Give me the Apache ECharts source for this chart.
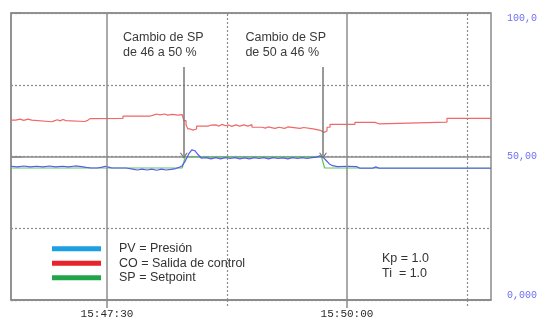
<!DOCTYPE html>
<html>
<head>
<meta charset="utf-8">
<script src="https://cdn.jsdelivr.net/npm/echarts@6/dist/echarts.min.js"></script>
<style>
  html, body { margin: 0; padding: 0; background: #fff; }
  #chart { width: 546px; height: 322px; }
</style>
</head>
<body>
<div id="chart"></div>
<script>
// Time axis: seconds elapsed since 15:46:30 (window of five minutes)
const timeMin = 0;
const timeMax = 300;
const majorTimeTicks = [60, 210];
const majorTimeLabels = ['15:47:30', '15:50:00'];
const minorTimeTicks = [135, 285];

// Percent axis on the right
const pctTicks = [0, 50, 100];
const pctLabels = ['0,000', '50,00', '100,0'];

// PV = Presión  [t, %]
const pvPoints = [
  [0, 46.6], [4, 46.4], [8, 46.7], [12, 46.4], [16, 46.6], [20, 46.4], [24, 46.7],
  [28, 46.4], [32, 46.6], [36, 46.4], [40, 46.7], [44, 46.5], [47, 46.2], [50, 46.0],
  [54, 46.0], [57, 46.3], [59, 46.6], [61, 46.3], [63, 46.0], [68, 46.0], [72, 46.0],
  [76, 45.6], [79, 45.3], [82, 45.6], [85, 45.3], [88, 45.6], [91, 45.2], [94, 45.6],
  [97, 45.3], [100, 45.5], [103, 45.8], [105, 46.2], [107, 46.8], [109, 48.5],
  [111, 50.8], [113, 52.3], [115, 52.0], [117, 50.6], [119, 49.4], [122, 49.6],
  [125, 49.2], [128, 49.6], [131, 49.2], [134, 49.6], [137, 49.3], [140, 49.6],
  [143, 49.2], [146, 49.5], [149, 49.2], [152, 49.6], [155, 49.3], [158, 49.6],
  [161, 49.2], [164, 49.6], [167, 49.3], [170, 49.5], [173, 49.2], [176, 49.6],
  [179, 49.3], [182, 49.6], [185, 49.3], [188, 49.6], [191, 49.8], [193, 50.2],
  [195, 49.8], [197, 48.6], [199, 47.4], [201, 46.8], [204, 46.5], [210, 46.6],
  [216, 46.5], [218, 45.9], [226, 45.9], [228, 46.4], [230, 45.9], [300, 45.9]
];

// CO = Salida de control  [t, %]  (held until the next sample)
const coPoints = [
  [0, 62.7], [3, 63.0], [5.6, 62.6], [8, 63.0], [10.6, 62.7], [13, 62.1], [25.6, 62.4],
  [27, 62.8], [29, 62.4], [30.6, 62.9], [32.5, 62.5], [34.4, 62.9], [35.6, 62.2],
  [46, 62.6], [48, 63.2], [49.4, 62.8], [50.6, 63.3], [70, 64.1], [87, 64.4],
  [89, 64.8], [91, 64.5], [93, 64.8], [96, 64.4], [98, 64.7], [100.6, 64.4],
  [104.4, 64.6], [107, 64.0], [108, 62.5], [109.4, 61.0], [110.6, 59.6], [112, 59.2],
  [113.8, 59.6], [116, 60.6], [123, 60.9], [125, 60.3], [126, 61.0], [128, 60.6],
  [130, 61.2], [132, 60.7], [134, 61.0], [136, 60.5], [138, 61.0], [140.6, 60.6],
  [143, 61.0], [145.6, 60.6], [148, 61.1], [150.6, 60.2], [157, 59.9], [159, 60.3],
  [160.6, 59.8], [165, 60.2], [167.5, 59.8], [171, 60.3], [173, 59.8], [180.6, 60.1],
  [183, 59.6], [188.8, 59.3], [192, 59.0], [193.8, 58.4], [195.6, 58.9], [197.5, 60.2],
  [199.4, 61.2], [215, 61.9], [227.5, 61.4], [230, 62.0], [272.5, 63.3], [300, 63.3]
];

// SP = Setpoint  [t, %]
const spPoints = [[0, 46], [107, 46], [109, 50], [194, 50], [196, 46], [300, 46]];

// Setpoint-change notes: arrow time, arrow top/bottom (%), text anchor [t, %]
const noteTimes = [108, 195];
const noteArrowTop = [81.2, 81.2];
const noteArrowTip = [50.3, 50.3];
const noteTexts = ['Cambio de SP\nde 46 a 50 %', 'Cambio de SP\nde 50 a 46 %'];
const noteAnchors = [[70, 89], [146.5, 89]];

const legendNames = ['PV = Presión', 'CO = Salida de control', 'SP = Setpoint'];
const legendSwatches = ['#1d9fe4', '#e8232b', '#22a54a'];

const gridGray = '#8c8c8c';
const chevron = 'path://M0,10 L5,0 L10,10 L8.4,10 L5,3.4 L1.6,10 Z';

const chart = echarts.init(document.getElementById('chart'), null, { renderer: 'canvas' });

const xAxisBase = {
  type: 'value', min: timeMin, max: timeMax, position: 'bottom',
  axisLine: { show: false },
  splitLine: { show: false }
};

chart.setOption({
  animation: false,
  backgroundColor: '#fff',
  grid: {
    left: 11, right: 55, top: 13, bottom: 22,
    show: true, borderColor: gridGray, borderWidth: 1.5, backgroundColor: 'transparent'
  },
  xAxis: [
    Object.assign({}, xAxisBase, {
      axisLine: { show: true, lineStyle: { color: gridGray, width: 1.5 } },
      axisTick: { show: true, length: 8, customValues: majorTimeTicks,
                  lineStyle: { color: gridGray, width: 1.5 } },
      axisLabel: {
        show: true, customValues: majorTimeTicks, margin: 9,
        fontFamily: 'Liberation Mono', fontSize: 11, color: '#2a2a2a',
        formatter: v => majorTimeLabels[majorTimeTicks.indexOf(v)] || ''
      }
    }),
    Object.assign({}, xAxisBase, {
      axisTick: { show: true, length: 8, customValues: minorTimeTicks,
                  lineStyle: { color: gridGray, width: 1.2, type: [2, 2] } },
      axisLabel: { show: false }
    })
  ],
  yAxis: [
    {
      type: 'value', min: 0, max: 100, interval: 50, position: 'right',
      axisLine: { show: true, lineStyle: { color: gridGray, width: 1.5 } },
      axisTick: { show: true, length: 11, lineStyle: { color: gridGray, width: 1.5 } },
      splitLine: { show: true, lineStyle: { color: gridGray, width: 1.5 } },
      axisLabel: {
        show: true, margin: 16,
        fontFamily: 'Liberation Mono', fontSize: 10, color: '#6e6ef2',
        verticalAlignMaxLabel: 'top', verticalAlignMinLabel: 'bottom',
        formatter: v => pctLabels[pctTicks.indexOf(v)] || ''
      }
    },
    {
      type: 'value', min: 0, max: 100, interval: 25, position: 'right',
      axisLine: { show: false },
      axisTick: { show: true, length: 9, lineStyle: { color: gridGray, width: 1.2, type: [2, 2] } },
      splitLine: { show: true, lineStyle: { color: gridGray, width: 1.2, type: [2, 2] } },
      axisLabel: { show: false }
    }
  ],
  legend: {
    orient: 'vertical', left: 52, top: 241.5, padding: 0,
    icon: 'rect', itemWidth: 49, itemHeight: 5, itemGap: 0,
    selectedMode: false,
    textStyle: { fontFamily: 'Liberation Sans', fontSize: 12.5, color: '#333',
                 lineHeight: 14.5, padding: [0, 0, 0, 13] },
    data: legendNames.map((n, i) => ({ name: n, itemStyle: { color: legendSwatches[i], borderWidth: 0 } }))
  },
  graphic: [{
    type: 'text', left: 382, top: 251, silent: true,
    style: { text: 'Kp = 1.0\nTi  = 1.0', font: '12.5px "Liberation Sans"', fill: '#333', lineHeight: 15 }
  }],
  series: [
    {
      // vertical time gridlines
      name: 'timeGrid', type: 'line', data: [], z: 1, silent: true,
      markLine: {
        silent: true, symbol: 'none', label: { show: false }, animation: false,
        data: majorTimeTicks.map(t => ({ xAxis: t, lineStyle: { color: gridGray, width: 1.5, type: 'solid' } }))
          .concat(minorTimeTicks.map(t => ({ xAxis: t, lineStyle: { color: gridGray, width: 1.2, type: [2, 2] } })))
      }
    },
    {
      name: legendNames[2], type: 'line', z: 3, data: spPoints, showSymbol: false,
      lineStyle: { color: '#5cc65c', width: 1.2 }, itemStyle: { color: '#5cc65c' }
    },
    {
      name: legendNames[1], type: 'line', z: 3, data: coPoints, step: 'end', showSymbol: false,
      lineStyle: { color: '#f06868', width: 1.2 }, itemStyle: { color: '#f06868' }
    },
    {
      name: legendNames[0], type: 'line', z: 4, data: pvPoints, showSymbol: false,
      lineStyle: { color: '#5a5af2', width: 1.2 }, itemStyle: { color: '#5a5af2' }
    },
    {
      // setpoint-change notes
      name: 'notes', type: 'line', data: [], z: 5, silent: true,
      markLine: {
        silent: true, symbol: ['none', chevron], symbolSize: [8, 6], animation: false,
        label: { show: false },
        lineStyle: { color: '#777', width: 1.5, type: 'solid' },
        data: noteTimes.map((t, i) => [{ coord: [t, noteArrowTop[i]] }, { coord: [t, noteArrowTip[i]] }])
      },
      markPoint: {
        silent: true, symbol: 'circle', symbolSize: 0, animation: false,
        label: {
          show: true, position: 'right', distance: 0, formatter: '{b}',
          fontFamily: 'Liberation Sans', fontSize: 12.5, color: '#3a3a3a', lineHeight: 15
        },
        data: noteAnchors.map((c, i) => ({ name: noteTexts[i], coord: c }))
      }
    }
  ]
});
</script>
</body>
</html>
